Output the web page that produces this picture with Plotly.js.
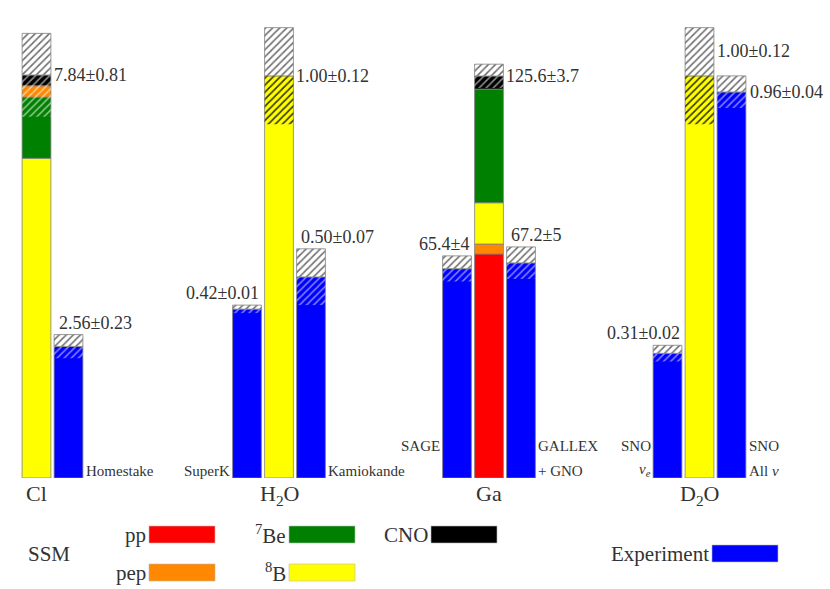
<!DOCTYPE html>
<html>
<head>
<meta charset="utf-8">
<script src="https://cdn.plot.ly/plotly-3.0.1.min.js"></script>
<style>
  html, body { margin: 0; padding: 0; background: #fff; }
  #chart { width: 830px; height: 589px; }
  #chart text { font-family: "Liberation Serif", "DejaVu Serif", serif !important; }
</style>
</head>
<body>
<div id="chart"></div>
<script>
// SSM components, bottom to top of each theory bar
// Cl and Ga in SNU, H2O and D2O as ratio to the SSM
const clParts = ['8B', '7Be', 'pep', 'CNO'];
const clPartValues = [6.22, 1.19, 0.22, 0.21];
const h2oParts = ['8B'];
const h2oPartValues = [1.00];
const gaParts = ['pp', 'pep', '8B', '7Be', 'CNO'];
const gaPartValues = [70.0, 3.1, 12.9, 35.5, 4.1];
const d2oParts = ['8B'];
const d2oPartValues = [1.00];

// SSM totals and errors
const ssmValues = [7.84, 1.00, 125.6, 1.00];
const ssmErrors = [0.81, 0.12, 3.7, 0.12];
const ssmLabels = ['7.84±0.81', '1.00±0.12', '125.6±3.7', '1.00±0.12'];

// experiments (ids, two-line names, values, errors, value labels)
const clExpIds = ['Homestake'];
const clNameTop = [''];
const clNameBottom = ['Homestake'];
const clExp = [2.56];
const clExpErr = [0.23];
const clExpLabels = ['2.56±0.23'];

const h2oExpIds = ['SuperK', 'Kamiokande'];
const h2oNameTop = ['', ''];
const h2oNameBottom = ['SuperK', 'Kamiokande'];
const h2oExp = [0.42, 0.50];
const h2oExpErr = [0.01, 0.07];
const h2oExpLabels = ['0.42±0.01', '0.50±0.07'];

const gaExpIds = ['SAGE', 'GALLEX'];
const gaNameTop = ['SAGE', 'GALLEX'];
const gaNameBottom = ['', '+ GNO'];
const gaExp = [65.4, 67.2];
const gaExpErr = [4, 5];
const gaExpLabels = ['65.4±4', '67.2±5'];

const d2oExpIds = ['SNOe', 'SNOall'];
const d2oNameTop = ['SNO', 'SNO'];
const d2oNameBottom = ['<i>ν<sub>e</sub></i>', 'All <i>ν</i>'];
const d2oExp = [0.31, 0.96];
const d2oExpErr = [0.02, 0.04];
const d2oExpLabels = ['0.31±0.02', '0.96±0.04'];

const panelNames = ['Cl', 'H<sub>2</sub>O', 'Ga', 'D<sub>2</sub>O'];

const partColors = {
  pp: '#ff0000', pep: '#ff8800', '7Be': '#008000', '8B': '#ffff00', CNO: '#000000',
};
const expColor = '#0000ff';

// legend entries
const legendKeys = ['pp', 'pep', '7Be', '8B', 'CNO'];
const legendText = ['pp', 'pep', '<sup>7</sup>Be', '<sup>8</sup>B', 'CNO'];

// ---- layout helpers (pixels of the 830x589 page) ----
const W = 830;
const H = 589;
const px = (x) => x / W;
const py = (y) => 1 - y / H;

const serif = 'Liberation Serif';
const textColor = '#333';
const txt = (size) => ({ family: serif, size, color: textColor });

// panel description: which side the experiments sit, axis ranges, hatch colour
const panels = [
  {
    parts: clParts, partValues: clPartValues, ids: clExpIds, top: clNameTop, bottom: clNameBottom,
    exp: clExp, err: clExpErr, labels: clExpLabels, sides: ['right'],
    domain: [20.5, 84.5], ymax: 8.91, hatch: 'rgba(255,255,255,0.55)',
  },
  {
    parts: h2oParts, partValues: h2oPartValues, ids: h2oExpIds, top: h2oNameTop, bottom: h2oNameBottom,
    exp: h2oExp, err: h2oExpErr, labels: h2oExpLabels, sides: ['left', 'right'],
    domain: [231, 327], ymax: 1.139, hatch: 'rgba(30,30,0,0.9)',
  },
  {
    parts: gaParts, partValues: gaPartValues, ids: gaExpIds, top: gaNameTop, bottom: gaNameBottom,
    exp: gaExp, err: gaExpErr, labels: gaExpLabels, sides: ['left', 'right'],
    domain: [441, 537], ymax: 143.1, hatch: 'rgba(255,255,255,0.55)',
  },
  {
    parts: d2oParts, partValues: d2oPartValues, ids: d2oExpIds, top: d2oNameTop, bottom: d2oNameBottom,
    exp: d2oExp, err: d2oExpErr, labels: d2oExpLabels, sides: ['left', 'right'],
    domain: [651.5, 747.5], ymax: 1.139, hatch: 'rgba(30,30,0,0.9)',
  },
];

const outline = { color: '#808080', width: 0.8 };
const traces = [];
const annotations = [];
const layout = {
  width: W,
  height: H,
  margin: { l: 0, r: 0, t: 0, b: 0 },
  paper_bgcolor: '#fff',
  plot_bgcolor: 'rgba(0,0,0,0)',
  barmode: 'overlay',
  bargap: 0.1,
  showlegend: false,
  font: txt(15),
  shapes: [],
};

panels.forEach((p, i) => {
  const n = i + 1;
  const xa = n === 1 ? 'x' : `x${n}`;
  const ya = n === 1 ? 'y' : `y${n}`;

  // category order: experiments left of SSM go first
  const cats = [];
  p.ids.forEach((id, k) => { if (p.sides[k] === 'left') cats.push(id); });
  cats.push('SSM');
  p.ids.forEach((id, k) => { if (p.sides[k] === 'right') cats.push(id); });

  layout[`xaxis${n === 1 ? '' : n}`] = {
    domain: [px(p.domain[0]), px(p.domain[1])],
    anchor: ya,
    type: 'category',
    categoryorder: 'array',
    categoryarray: cats,
    range: [-0.5, cats.length - 0.5],
    visible: false,
    fixedrange: true,
  };
  layout[`yaxis${n === 1 ? '' : n}`] = {
    domain: [py(478), py(20)],
    anchor: xa,
    range: [0, p.ymax],
    visible: false,
    fixedrange: true,
  };

  // SSM stack
  let cum = 0;
  p.parts.forEach((part, k) => {
    traces.push({
      type: 'bar', xaxis: xa, yaxis: ya,
      x: ['SSM'], y: [p.partValues[k]], base: [cum],
      marker: { color: partColors[part], line: outline },
      hoverinfo: 'skip',
    });
    cum += p.partValues[k];
  });

  // experiments
  traces.push({
    type: 'bar', xaxis: xa, yaxis: ya,
    x: p.ids, y: p.exp,
    marker: { color: expColor, line: outline },
    hoverinfo: 'skip',
  });

  // error bands: lower half hatched over the colour, upper half hatched on white
  const allX = ['SSM', ...p.ids];
  const allV = [ssmValues[i], ...p.exp];
  const allE = [ssmErrors[i], ...p.err];
  const lowHatch = [p.hatch, ...p.ids.map(() => 'rgba(255,255,255,0.5)')];
  traces.push({
    type: 'bar', xaxis: xa, yaxis: ya,
    x: allX, y: allE, base: allV.map((v, k) => v - allE[k]),
    marker: {
      color: 'rgba(0,0,0,0)',
      line: { width: 0 },
      pattern: { shape: '/', fgcolor: lowHatch, bgcolor: 'rgba(0,0,0,0)', size: 5, solidity: 0.32 },
    },
    hoverinfo: 'skip',
  });
  traces.push({
    type: 'bar', xaxis: xa, yaxis: ya,
    x: allX, y: allE, base: allV,
    marker: {
      color: '#ffffff',
      line: outline,
      pattern: { shape: '/', fgcolor: '#707070', bgcolor: '#ffffff', size: 5, solidity: 0.32 },
    },
    hoverinfo: 'skip',
  });

  // SSM value label, right of the bar at the central value
  annotations.push({
    xref: xa, yref: ya, x: 'SSM', y: ssmValues[i],
    xanchor: 'left', yanchor: 'middle', xshift: 15, yshift: i === 3 ? 25 : 0,
    text: ssmLabels[i], showarrow: false, font: txt(18),
  });

  // experiment value labels and names
  p.ids.forEach((id, k) => {
    const left = p.sides[k] === 'left';
    const top = p.exp[k] + p.err[k];
    if (i === 3 && !left) {
      // the tall SNO bar gets its label beside it
      annotations.push({
        xref: xa, yref: ya, x: id, y: p.exp[k],
        xanchor: 'left', yanchor: 'middle', xshift: 16,
        text: p.labels[k], showarrow: false, font: txt(18),
      });
    } else {
      annotations.push({
        xref: xa, yref: ya, x: id, y: top,
        xanchor: left ? 'right' : 'left', yanchor: 'bottom', xshift: left ? 14 : -12,
        text: p.labels[k], showarrow: false, font: txt(18),
      });
    }
    [p.top[k], p.bottom[k]].forEach((line, li) => {
      if (!line) return;
      annotations.push({
        xref: xa, yref: ya, x: id, y: 0,
        xanchor: left ? 'right' : 'left', yanchor: 'bottom',
        xshift: left ? -15 : 15, yshift: li === 0 ? 22 : -3,
        text: line, showarrow: false, font: txt(15),
      });
    });
  });

  // panel name under the SSM bar
  annotations.push({
    xref: xa, yref: ya, x: 'SSM', y: 0,
    xanchor: 'center', yanchor: 'top', yshift: -1,
    text: panelNames[i], showarrow: false, font: txt(22),
  });
});

// ---- legend, drawn as swatches with the label on the left ----
const legCols = [149, 289, 431];
const legRows = [526, 564];
const legPlace = [[0, 0], [0, 1], [1, 0], [1, 1], [2, 0]];
const swW = 66;
const swH = 17;

function swatch(x0, y0, color, label) {
  layout.shapes.push({
    type: 'rect', xref: 'paper', yref: 'paper',
    x0: px(x0), x1: px(x0 + swW), y0: py(y0 + swH), y1: py(y0),
    fillcolor: color, line: { color: '#bbbbbb', width: 0.6 },
  });
  annotations.push({
    xref: 'paper', yref: 'paper', x: px(x0 - 1), y: py(y0 + swH / 2),
    xanchor: 'right', yanchor: 'middle',
    text: label, showarrow: false, font: txt(21),
  });
}

legendKeys.forEach((key, k) => {
  const [c, r] = legPlace[k];
  swatch(legCols[c], legRows[r], partColors[key], legendText[k]);
});
swatch(712, 545, expColor, 'Experiment');

annotations.push({
  xref: 'paper', yref: 'paper', x: px(26), y: py(554),
  xanchor: 'left', yanchor: 'middle',
  text: 'SSM', showarrow: false, font: txt(21),
});

layout.annotations = annotations;

Plotly.newPlot('chart', traces, layout, { displayModeBar: false, staticPlot: true });
</script>
</body>
</html>
